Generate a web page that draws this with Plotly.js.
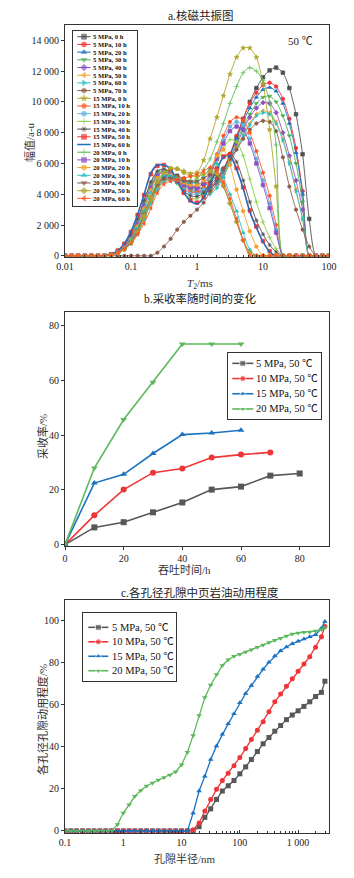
<!DOCTYPE html>
<html><head><meta charset="utf-8">
<script src="https://cdn.plot.ly/plotly-3.0.1.min.js"></script>
<style>html,body{margin:0;padding:0;background:#fff;}#chart{width:354px;height:878px;}</style>
</head><body><div id="chart"></div>
<script>
// ---------- a. NMR T2 spectra ----------
const t2 = [0.01,0.0126,0.0158,0.02,0.0251,0.0316,0.0398,0.0501,0.0631,0.0794,
 0.1,0.126,0.158,0.2,0.251,0.316,0.398,0.501,0.631,0.794,
 1,1.26,1.58,2,2.51,3.16,3.98,5.01,6.31,7.94,
 10,12.6,15.8,20,25.1,31.6,39.8,50.1,63.1,79.4,100];
const s5_0  = [0,0,0,0,0,0,0, 80,250,550,1000,1700,2700,3800,4700,5200,5300,5200,5000,4800,4700,4650,4700, 5000,5600,6500,7700,8900,10000,10900,11600,12050,12230,11900,10900,9200,6600,2400,0, 0,0];
const s5_10 = [0,0,0,0,0,0,0, 70,230,520,950,1650,2650,3750,4650,5150,5250,5100,4850,4600,4450,4400,4500, 4900,5600,6600,7800,8900,9900,10600,11100,11250,11000,10200,8900,7000,4200,0,0, 0,0];
const s5_20 = [0,0,0,0,0,0,0, 70,220,500,920,1600,2600,3700,4600,5100,5200,5050,4800,4550,4400,4350,4400, 4800,5500,6500,7600,8700,9600,10300,10800,10940,10700,9900,8600,6700,4000,0,0, 0,0];
const s5_30 = [0,0,0,0,0,0,0, 60,200,480,880,1550,2500,3600,4500,5000,5100,4950,4700,4450,4300,4250,4300, 4700,5400,6300,7400,8400,9200,9900,10300,10380,10000,9100,7800,6000,3500,0,0, 0,0];
const s5_40 = [0,0,0,0,0,0,0, 60,190,450,850,1500,2450,3500,4400,4900,5000,4850,4600,4350,4200,4150,4200, 4600,5300,6200,7200,8200,9000,9600,9950,9900,9300,8000,6500,4900,3000,0,0, 0,0];
const s5_50 = [0,0,0,0,0,0,0, 50,180,430,820,1450,2400,3450,4350,4850,4950,4800,4550,4300,4150,4100,4100, 4500,5200,6100,7000,7900,8600,9200,9420,9300,8700,7600,6100,4300,2400,0,0, 0,0];
const s5_60 = [0,0,0,0,0,0,0, 50,170,410,800,1400,2350,3400,4300,4800,4900,4750,4500,4250,4100,4000,4000, 4400,5100,6000,6900,7800,8500,9100,9300,9200,8600,7500,6000,4200,2400,0,0, 0,0];
const s5_70 = [0,0,0,0,0,0,0,0,0,0,0,0,0,0, 200,600,1100,1700,2200,2600,3000,3450,4200, 5000,5700,6300,6900,7600,8200,8600,8770,8700,8100,6400,4500,3000,1700,600,0, 0,0];
const s15_0  = [0,0,0,0,0,0,0, 60,200,450,850,1500,2500,3600,4600,5300,5600,5650,5500,5350,5400,6200,7600, 9000,10400,11800,12900,13500,13500,12900,11200,8200,4500,0,0,0,0,0,0, 0,0];
const s15_10 = [0,0,0,0,0,0,0, 80,260,620,1250,2200,3400,4600,5300,5500,5350,4850,4400,4150,4100,4400,5300, 6600,7800,8700,9000,8800,8000,6800,5400,3900,2000,0,0,0,0,0,0, 0,0];
const s15_20 = [0,0,0,0,0,0,0, 80,270,640,1300,2250,3450,4650,5350,5550,5350,4800,4300,4050,4000,4300,5100, 6400,7500,8400,8700,8500,7600,6300,4900,3400,1700,0,0,0,0,0,0, 0,0];
const s15_30 = [0,0,0,0,0,0,0, 90,300,680,1350,2350,3550,4750,5450,5600,5350,4700,4050,3750,3700,4050,4900, 6000,7000,7550,7400,6500,5000,3500,2200,1200,450,0,0,0,0,0,0, 0,0];
const s15_40 = [0,0,0,0,0,0,0, 90,300,700,1400,2400,3600,4800,5500,5650,5400,4800,4200,3900,3850,4100,4800, 5700,6400,6650,6100,4900,3500,2300,1400,700,250,0,0,0,0,0,0, 0,0];
const s15_50 = [0,0,0,0,0,0,0, 100,340,780,1550,2650,3950,5300,5850,5900,5600,4850,4100,3600,3450,3800,4650, 5650,6450,6600,5700,4450,2950,1900,950,300,0,0,0,0,0,0,0, 0,0];
const s15_60 = [0,0,0,0,0,0,0, 100,350,800,1600,2700,4000,5400,5900,5900,5650,4900,4100,3550,3380,3750,4600, 5600,6400,6500,5600,4350,2850,1800,900,250,0,0,0,0,0,0,0, 0,0];
const s20_0  = [0,0,0,0,0,0,0, 70,230,550,1100,2000,3200,4400,5200,5500,5400,5100,4900,4850,5000,5600,6300, 7400,8600,9900,11000,11900,12230,12000,11400,10000,7200,0,0,0,0,0,0, 0,0];
const s20_10 = [0,0,0,0,0,0,0, 70,240,580,1150,2050,3250,4450,5200,5450,5300,4900,4600,4450,4400,4700,5300, 6300,7300,8100,8400,8200,7300,6000,4600,3100,1500,0,0,0,0,0,0, 0,0];
const s20_20 = [0,0,0,0,0,0,0, 60,210,520,1050,1900,3050,4250,5050,5350,5250,4950,4750,4600,4600,4900,5600, 6500,6900,5900,4300,2900,1600,600,0,0,0,0,0,0,0,0,0, 0,0];
const s20_30 = [0,0,0,0,0,0,0, 60,200,500,1000,1800,2900,4100,4900,5250,5200,5000,4850,4750,4800,5150,5700, 6000,5100,4000,2900,1500,400,0,0,0,0,0,0,0,0,0,0, 0,0];
const s20_40 = [0,0,0,0,0,0,0, 50,180,450,900,1650,2700,3800,4600,5000,5050,4950,4850,4800,4850,5050,5250, 5200,4500,3400,2200,1000,200,0,0,0,0,0,0,0,0,0,0, 0,0];
const s20_50 = [0,0,0,0,0,0,0, 50,170,420,850,1550,2600,3800,4800,5400,5700,5650,5400,5200,5150,5300,5500, 5350,4600,3400,2200,1000,200,0,0,0,0,0,0,0,0,0,0, 0,0];
const s20_60 = [0,0,0,0,0,0,0, 50,200,450,800,1400,2100,3100,4100,4650,4850,4950,5050,5150,5300,5500,5750, 5550,4800,3700,2400,1000,0,0,0,0,0,0,0,0,0,0,0, 0,0];
const topNames = ['5 MPa, 0 h','5 MPa, 10 h','5 MPa, 20 h','5 MPa, 30 h','5 MPa, 40 h','5 MPa, 50 h','5 MPa, 60 h','5 MPa, 70 h',
 '15 MPa, 0 h','15 MPa, 10 h','15 MPa, 20 h','15 MPa, 30 h','15 MPa, 40 h','15 MPa, 50 h','15 MPa, 60 h',
 '20 MPa, 0 h','20 MPa, 10 h','20 MPa, 20 h','20 MPa, 30 h','20 MPa, 40 h','20 MPa, 50 h','20 MPa, 60 h'];
const topSeries = [s5_0,s5_10,s5_20,s5_30,s5_40,s5_50,s5_60,s5_70,s15_0,s15_10,s15_20,s15_30,s15_40,s15_50,s15_60,s20_0,s20_10,s20_20,s20_30,s20_40,s20_50,s20_60];
const topTicks = [0.01,0.1,1,10,100];
const topTickText = ['0.01','0.1','1','10','100'];
const ampTicks = [0,2000,4000,6000,8000,10000,12000,14000];
const ampTickText = ['0','2 000','4 000','6 000','8 000','10 000','12 000','14 000'];

// ---------- b. recovery vs time ----------
const hours = [0,10,20,30,40,50,60,70,80];
const rec5  = [0,6.3,8.2,11.8,15.4,20.1,21.2,25.2,26.0];
const rec10 = [0,10.7,20.1,26.3,27.8,31.8,32.9,33.7];
const rec15 = [0,22.5,25.7,33.3,40.2,40.8,41.8];
const rec20 = [0,28.0,45.7,59.3,73.3,73.3,73.3];
const pNames = ['5 MPa, 50 ℃','10 MPa, 50 ℃','15 MPa, 50 ℃','20 MPa, 50 ℃'];
const linTicks = [0,20,40,60,80];

// ---------- c. utilisation by pore radius ----------
const radius = [0.1,0.126,0.158,0.2,0.251,0.316,0.398,0.501,0.631,0.794,
 1,1.26,1.58,2,2.51,3.16,3.98,5.01,6.31,7.94,
 10,12.6,15.8,20,25.1,31.6,39.8,50.1,63.1,79.4,
 100,126,158,200,251,316,398,501,631,794,
 1000,1259,1585,1995,2512,2884];
const use5  = [0,0,0,0,0,0,0,0,0,0, 0,0,0,0,0,0,0,0,0,0, 0,0,0, 2,6.5,10.5,15,19,21.5,24,27.2,30.5,34,37.8,41.5,44.5,47.5,50.2,53,55.2,57.2,59.3,61.5,64,66,71.3];
const use10 = [0,0,0,0,0,0,0,0,0,0, 0,0,0,0,0,0,0,0,0,0, 0,0, 0.5,3.8,9.5,15,19.8,24,27.5,31,35,39.2,43.5,48,52,56.8,61.5,65.2,68.9,72.5,76,79.5,83,87.5,92.5,97.4];
const use15 = [0,0,0,0,0,0,0,0,0,0, 0,0,0,0,0,0,0,0,0,0, 0,0, 8.5,19,26,34,40.5,46,51,55.8,61,65.5,69.3,73.5,77,80.3,83.3,85.8,87.6,89.2,90.3,91.4,92.5,93.5,96.5,99.8];
const use20 = [0,0,0,0,0,0,0,0,0, 3,8.5,12.5,16.5,19.3,21.4,22.8,24.2,25.4,26.6,28.2, 31.5,37.5,45.5,55,63.5,69.5,74.5,78.8,81.5,83.2,84.2,85.2,86.3,87.5,88.6,89.8,90.8,91.8,92.8,93.8,94.3,94.6,94.8,95.2,96,96.9];
const radTicks = [0.1,1,10,100,1000];
const radTickText = ['0.1','1','10','100','1 000'];
const pctTicks = [0,20,40,60,80,100];

// ---------- styles ----------
const W = 354, H = 878;
const fx = p => p / W, fy = p => 1 - p / H;
const SERIF = 'Liberation Serif, Times New Roman, Noto Sans CJK SC, serif';
const CJK = 'Liberation Serif, Noto Sans CJK SC, sans-serif';
const topStyle = [
 ['#505050','square'],['#f03535','circle'],['#1a6fc0','triangle-up'],['#4caf50','triangle-down'],
 ['#8c52c2','diamond'],['#f2a227','triangle-left'],['#29c2c2','triangle-right'],['#8d5b4c','hexagon'],
 ['#b3a52a','star'],['#ff5722','hexagon2'],['#62b2e3','circle'],['#85cc3e','cross-thin-open'],
 ['#4a4a4a','asterisk-open'],['#f03535','square'],['#1a6fc0',null],
 ['#5dbb55','cross-thin-open'],['#8c52c2','square'],['#f2a227','circle'],['#29c2c2','triangle-up'],
 ['#8d5b4c','triangle-down'],['#b3a52a','diamond'],['#ff5722','triangle-left']];
const pStyle = [['#575757','square'],['#ee3537','circle'],['#1b72c0','triangle-up'],['#5cb85c','triangle-down']];

const traces = [];
const annotations = [];

// top chart traces
topSeries.forEach((ys, k) => {
  const [c, m] = topStyle[k];
  traces.push({type:'scatter', x:t2, y:ys, xaxis:'x', yaxis:'y', mode: m ? 'lines+markers' : 'lines',
    line:{color:c, width: m ? 0.9 : 1.4, shape:'spline', smoothing:0.7},
    marker:{symbol:m || 'circle', size:3.6, color:c, line:{width:0.7, color:c}},
    showlegend:false, hoverinfo:'skip', cliponaxis:true});
});
// top custom legend (x4/y4)
topNames.forEach((name, k) => {
  const [c, m] = topStyle[k];
  traces.push({type:'scatter', x:[0.071,0.175,0.279], y:[k,k,k], xaxis:'x4', yaxis:'y4',
    mode: m ? 'lines+markers' : 'lines', line:{color:c, width: m ? 1 : 1.5},
    marker:{symbol:m || 'circle', size:[0,5,0], color:c, line:{width:0.8, color:c}},
    showlegend:false, hoverinfo:'skip'});
  annotations.push({xref:'x4', yref:'y4', x:0.3, y:k, xanchor:'left', yanchor:'middle', showarrow:false,
    text:name, borderpad:0, font:{family:SERIF, size:6.6, color:'#111', weight:'bold'}});
});

// middle chart
[rec5, rec10, rec15, rec20].forEach((ys, k) => {
  const [c, m] = pStyle[k];
  traces.push({type:'scatter', x:hours.slice(0, ys.length), y:ys, xaxis:'x2', yaxis:'y2', mode:'lines+markers',
    line:{color:c, width:1.6}, marker:{symbol:m, size:6, color:c}, showlegend:false, hoverinfo:'skip'});
  traces.push({type:'scatter', x:[0.046,0.159,0.272], y:[k,k,k], xaxis:'x5', yaxis:'y5', mode:'lines+markers',
    line:{color:c, width:1.6}, marker:{symbol:m, size:[0,6,0], color:c}, showlegend:false, hoverinfo:'skip'});
  annotations.push({xref:'x5', yref:'y5', x:0.29, y:k, xanchor:'left', yanchor:'middle', showarrow:false,
    text:pNames[k], borderpad:0, font:{family:SERIF, size:10.5, color:'#111'}});
});

// bottom chart
[use5, use10, use15, use20].forEach((ys, k) => {
  const [c, m] = pStyle[k];
  traces.push({type:'scatter', x:radius, y:ys, xaxis:'x3', yaxis:'y3', mode:'lines+markers',
    line:{color:c, width:1.3}, marker:{symbol:m, size:5, color:c}, showlegend:false, hoverinfo:'skip'});
  traces.push({type:'scatter', x:[0.057,0.165,0.272], y:[k,k,k], xaxis:'x6', yaxis:'y6', mode:'lines+markers',
    line:{color:c, width:1.6}, marker:{symbol:m, size:[0,6,0], color:c}, showlegend:false, hoverinfo:'skip'});
  annotations.push({xref:'x6', yref:'y6', x:0.3, y:k, xanchor:'left', yanchor:'middle', showarrow:false,
    text:pNames[k], borderpad:0, font:{family:SERIF, size:10.5, color:'#111'}});
});

// titles
const tf = {family:CJK, size:11.5, color:'#222'};
const af = {family:CJK, size:11, color:'#333'};
const ann = (text, x, y, font, extra) => annotations.push(Object.assign({text, x:fx(x), y:fy(y), xref:'paper', yref:'paper', showarrow:false, font, xanchor:'center', yanchor:'middle'}, extra || {}));
ann('a.核磁共振图', 200, 15, tf);
ann('<i>T</i><sub>2</sub>/ms', 200, 284, af);
ann('幅值/a-u', 30, 142, af, {textangle:-90});
ann('50 ℃', 300, 41, {family:SERIF, size:11, color:'#222'});
ann('b.采收率随时间的变化', 200, 299, tf);
ann('吞吐时间/h', 184, 570, af);
ann('采收率/%', 42, 437, af, {textangle:-90});
ann('c.各孔径孔隙中页岩油动用程度', 200, 592, tf);
ann('孔隙半径/nm', 185, 858, af);
ann('各孔径孔隙动用程度/%', 42, 720, af, {textangle:-90});

const axBase = {showline:true, mirror:true, linecolor:'#333', linewidth:1, showgrid:false, zeroline:false,
  tickfont:{family:SERIF, size:10, color:'#222'}, ticklen:3, tickcolor:'#333', fixedrange:true};
const legAx = {showline:true, mirror:true, linecolor:'#333', linewidth:1, showgrid:false, zeroline:false,
  showticklabels:false, ticks:'', fixedrange:true};

const layout = {
  width:W, height:H, margin:{l:0, r:0, t:0, b:0}, paper_bgcolor:'#fff', plot_bgcolor:'#fff', showlegend:false,
  xaxis: Object.assign({}, axBase, {type:'log', domain:[fx(65), fx(329)], range:[-2, 2], anchor:'y',
    tickmode:'array', tickvals:topTicks, ticktext:topTickText, ticks:'inside',
    minor:{ticks:'inside', ticklen:2, dtick:'D1', tickcolor:'#333', showgrid:false}}),
  yaxis: Object.assign({}, axBase, {domain:[fy(257), fy(25)], range:[-80, 15000], anchor:'x',
    tickmode:'array', tickvals:ampTicks, ticktext:ampTickText, ticks:'outside'}),
  xaxis2: Object.assign({}, axBase, {domain:[fx(65), fx(329)], range:[0, 90], anchor:'y2',
    tickmode:'array', tickvals:linTicks, ticks:'outside'}),
  yaxis2: Object.assign({}, axBase, {domain:[fy(546), fy(312)], range:[-0.5, 85], anchor:'x2',
    tickmode:'array', tickvals:linTicks, ticks:'outside'}),
  xaxis3: Object.assign({}, axBase, {type:'log', domain:[fx(65), fx(329)], range:[-1, 3.53], anchor:'y3',
    tickmode:'array', tickvals:radTicks, ticktext:radTickText, ticks:'inside',
    minor:{ticks:'inside', ticklen:2, dtick:'D1', tickcolor:'#333', showgrid:false}}),
  yaxis3: Object.assign({}, axBase, {domain:[fy(833), fy(600)], range:[-1, 110], anchor:'x3',
    tickmode:'array', tickvals:pctTicks, ticks:'outside'}),
  xaxis4: Object.assign({}, legAx, {domain:[fx(72.7), fx(137.3)], range:[0, 1], anchor:'y4'}),
  yaxis4: Object.assign({}, legAx, {domain:[fy(205.7), fy(31)], range:[21.95, -0.74], anchor:'x4'}),
  xaxis5: Object.assign({}, legAx, {domain:[fx(228), fx(321)], range:[0, 1], anchor:'y5'}),
  yaxis5: Object.assign({}, legAx, {domain:[fy(419), fy(353)], range:[3.66, -0.68], anchor:'x5'}),
  xaxis6: Object.assign({}, legAx, {domain:[fx(83), fx(176)], range:[0, 1], anchor:'y6'}),
  yaxis6: Object.assign({}, legAx, {domain:[fy(681), fy(613)], range:[3.71, -0.99], anchor:'x6'}),
  annotations
};

Plotly.newPlot('chart', traces, layout, {staticPlot:true, displayModeBar:false});
</script></body></html>
